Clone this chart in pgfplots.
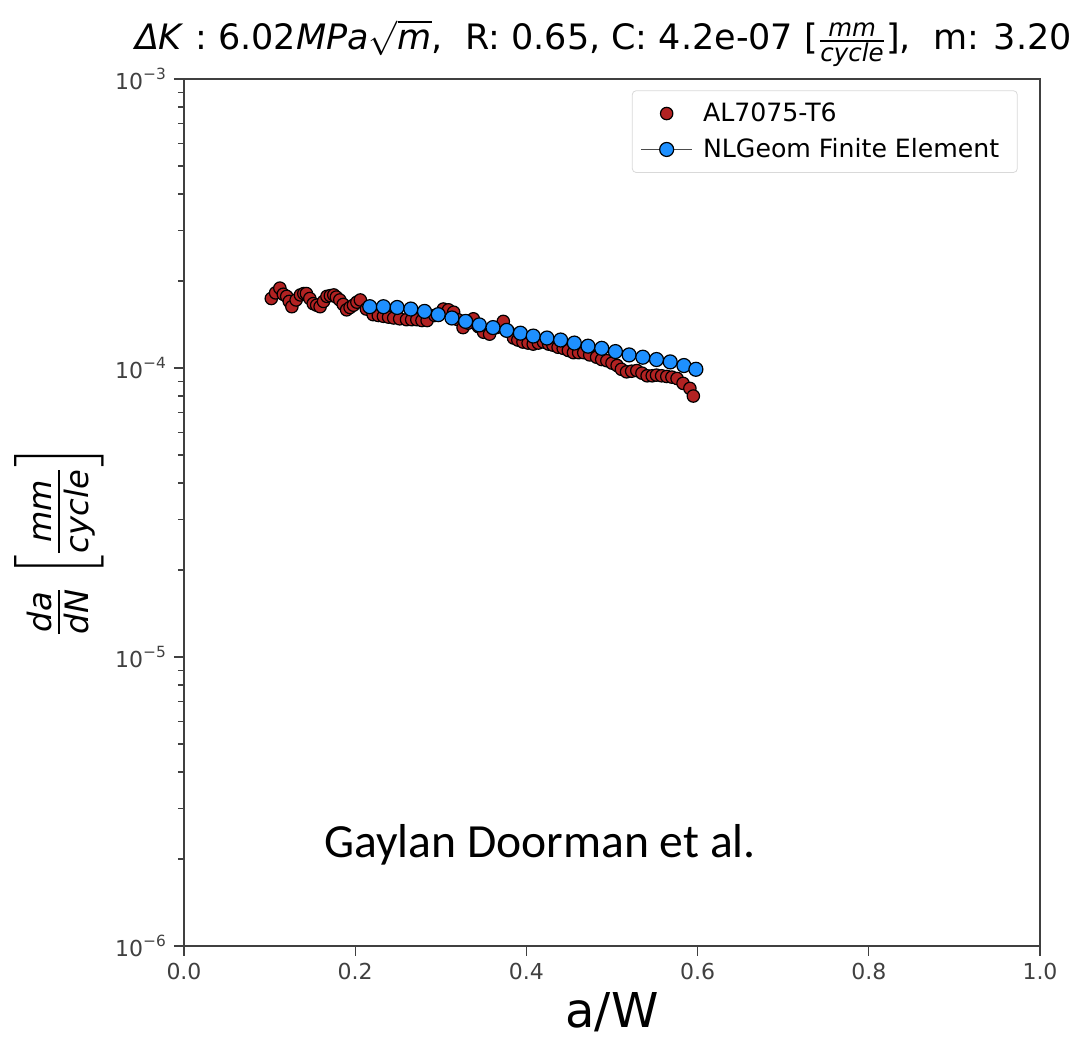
\documentclass[border=0pt]{standalone}
\usepackage{pgfplots}
\pgfplotsset{compat=1.18}
\usepackage{amsmath}
\usepackage{fontspec}
\setmainfont{DejaVu Sans}
\newfontfamily\calfont{Carlito}
\definecolor{redpt}{HTML}{B22222}
\definecolor{bluept}{HTML}{1E90FF}
\begin{document}
\begin{tikzpicture}
\begin{axis}[
  name=ax,
  at={(0,0)}, anchor=south west,
  scale only axis, width=428pt, height=433.5pt,
  ymode=log, xmin=0, xmax=1, ymin=1e-6, ymax=1e-3,
  xtick={0,0.2,0.4,0.6,0.8,1.0},
  xticklabels={0.0,0.2,0.4,0.6,0.8,1.0},
  ytick={1e-6,1e-5,1e-4,1e-3},
  yticklabels={$\text{10}^{\text{−6}}$,$\text{10}^{\text{−5}}$,$\text{10}^{\text{−4}}$,$\text{10}^{\text{−3}}$},
  tick align=outside, tick pos=left,
  major tick length=5pt, minor tick length=3pt,
  axis line style={black!75, line width=1pt},
  every tick/.style={black!75, line width=0.6pt},
  tick label style={font=\fontsize{11}{13}\selectfont, text=black!75},
  /pgf/number format/assume math mode=true,
  xlabel={a/W},
  xlabel style={font=\fontsize{24}{28}\selectfont, at={(axis description cs:0.5,-0.045)}, anchor=north},
  ylabel={$\frac{\text{\itshape da}}{\text{\itshape dN}}\left[\frac{\text{\itshape mm}}{\text{\itshape cycle}}\right]$},
  ylabel style={font=\fontsize{23}{27}\selectfont, at={(axis description cs:-0.146,0.468)}, anchor=center},
  title={\textit{ΔK} : 6.02\textit{MPa}$\sqrt{\text{\itshape m}}$,\ \ R: 0.65, C: 4.2e-07 [$\frac{\text{\itshape mm}}{\text{\itshape cycle}}$],\ \ m: 3.20},
  title style={font=\fontsize{17.5}{20}\selectfont, at={(axis description cs:0.49,1.0)}, anchor=south, yshift=-3.5pt},
  legend style={at={(rel axis cs:0.974,0.987)}, anchor=north east, draw=black!15, rounded corners=2pt, font=\fontsize{12.6}{15}\selectfont, row sep=3pt, inner sep=4pt, nodes={inner xsep=5pt}},
  legend cell align=left,
  legend image code/.code={\draw[mark repeat=2, mark phase=2] plot coordinates {(0cm,0cm) (0.45cm,0cm) (0.9cm,0cm)};},
]
\addplot[only marks, mark=*, mark size=3.1pt, mark options={fill=redpt, draw=black, line width=0.6pt}] coordinates {
(0.102,1.74e-4) (0.107,1.82e-4) (0.112,1.89e-4) (0.116,1.80e-4) (0.120,1.77e-4)
(0.123,1.70e-4) (0.126,1.63e-4) (0.131,1.72e-4) (0.136,1.79e-4) (0.140,1.81e-4)
(0.143,1.81e-4) (0.147,1.74e-4) (0.151,1.67e-4) (0.155,1.65e-4) (0.159,1.63e-4)
(0.163,1.70e-4) (0.167,1.77e-4) (0.171,1.78e-4) (0.175,1.79e-4) (0.178,1.76e-4)
(0.182,1.72e-4) (0.186,1.66e-4) (0.190,1.59e-4) (0.194,1.62e-4) (0.198,1.65e-4)
(0.202,1.69e-4) (0.206,1.72e-4) (0.213,1.60e-4) (0.221,1.53e-4) (0.227,1.52e-4)
(0.233,1.51e-4) (0.239,1.50e-4) (0.245,1.49e-4) (0.252,1.48e-4) (0.260,1.47e-4)
(0.266,1.47e-4) (0.272,1.47e-4) (0.278,1.46e-4) (0.284,1.46e-4) (0.293,1.52e-4)
(0.303,1.60e-4) (0.309,1.59e-4) (0.315,1.56e-4) (0.320,1.47e-4) (0.326,1.38e-4)
(0.332,1.43e-4) (0.338,1.48e-4) (0.344,1.39e-4) (0.350,1.33e-4) (0.357,1.31e-4)
(0.365,1.38e-4) (0.373,1.45e-4) (0.379,1.34e-4) (0.385,1.27e-4) (0.390,1.25e-4)
(0.396,1.23e-4) (0.402,1.22e-4) (0.408,1.21e-4) (0.414,1.22e-4) (0.420,1.23e-4)
(0.426,1.21e-4) (0.431,1.20e-4) (0.437,1.18e-4) (0.443,1.17e-4) (0.449,1.15e-4)
(0.455,1.13e-4) (0.461,1.13e-4) (0.467,1.13e-4) (0.474,1.11e-4) (0.482,1.09e-4)
(0.488,1.07e-4) (0.494,1.06e-4) (0.500,1.04e-4) (0.506,1.02e-4) (0.511,0.99e-4)
(0.517,0.97e-4) (0.523,0.975e-4) (0.529,0.98e-4) (0.535,0.96e-4) (0.541,0.94e-4)
(0.547,0.94e-4) (0.552,0.945e-4) (0.558,0.94e-4) (0.564,0.935e-4) (0.570,0.93e-4)
(0.576,0.92e-4) (0.583,0.885e-4) (0.591,0.85e-4) (0.595,0.80e-4)
};
\addlegendentry{AL7075-T6}
\addplot[black!70, line width=0.8pt, mark=*, mark size=3.5pt, mark options={fill=bluept, draw=black, line width=0.6pt, solid}] coordinates {
(0.217,1.63e-4) (0.233,1.63e-4) (0.249,1.62e-4) (0.265,1.60e-4) (0.281,1.57e-4)
(0.297,1.53e-4) (0.313,1.49e-4) (0.329,1.45e-4) (0.345,1.41e-4) (0.361,1.38e-4)
(0.377,1.35e-4) (0.393,1.32e-4) (0.408,1.29e-4) (0.424,1.27e-4) (0.440,1.25e-4)
(0.456,1.22e-4) (0.472,1.19e-4) (0.488,1.17e-4) (0.504,1.14e-4) (0.520,1.11e-4)
(0.536,1.09e-4) (0.552,1.07e-4) (0.568,1.05e-4) (0.584,1.02e-4) (0.598,0.99e-4)
};
\addlegendentry{NLGeom Finite Element}
\node[font=\calfont\fontsize{23.8}{28}\selectfont, anchor=center] at (rel axis cs:0.416,0.1165) {Gaylan Doorman et al.};
\end{axis}
\pgfresetboundingbox
\path (-92pt,-49pt) rectangle (449pt,473pt);
\end{tikzpicture}
\end{document}
